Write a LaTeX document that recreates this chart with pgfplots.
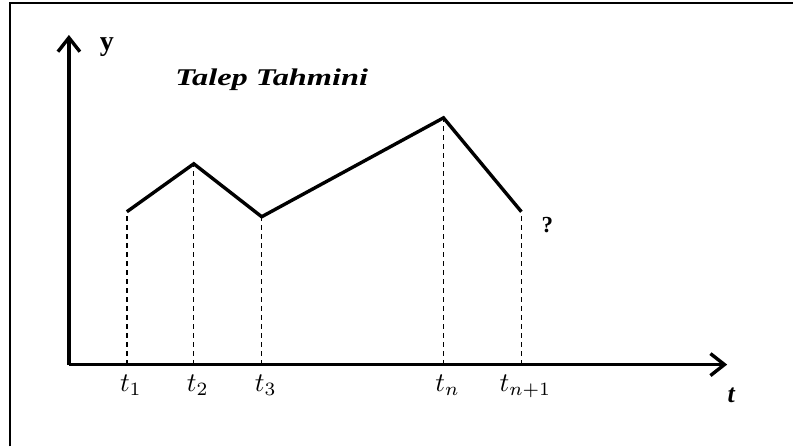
\documentclass[border=0pt]{standalone}
\usepackage{fontspec}
\setmainfont{Liberation Serif}
\usepackage{pgfplots}
\pgfplotsset{compat=1.18}
\usetikzlibrary{arrows.meta}
\begin{document}
\begin{tikzpicture}
\begin{axis}[
  width=659bp, height=330bp, scale only axis,
  xmin=0, xmax=659, ymin=0, ymax=330,
  axis lines=left,
  axis line style={line width=3.8bp, -{Straight Barb[length=14bp,width=22bp,line width=3.4bp]}},
  xtick={58,125,193,375,453},
  xticklabels={$t_1$,$t_2$,$t_3$,$t_n$,$t_{n+1}$},
  ytick=\empty,
  major tick length=0pt,
  xticklabel style={scale=2.7, xshift=1.5bp, yshift=-0.5bp, text=black},
  clip=false,
]
% vertical dashed guides
\addplot[ycomb, black, line width=1.3bp, dash pattern=on 5bp off 4bp, no marks]
  coordinates {(58,153) (125,201) (193,148) (375,247) (453,153)};
% forecast line
\addplot[black, line width=3.4bp, line join=miter, no marks]
  coordinates {(58,153) (125,201) (193,148) (375,247) (453,153)};
% frame (top and left edge)
\draw[black, line width=1.8bp] (axis cs:-59,-82) -- (axis cs:-59,362) -- (axis cs:725,362);
\path (axis cs:-69,-82) rectangle (axis cs:725,365);
% texts
\node[font=\bfseries\fontsize{28bp}{28bp}\selectfont] at (axis cs:38,318) {y};
\node[font=\bfseries\itshape\fontsize{24bp}{24bp}\selectfont, xscale=1.35] at (axis cs:203,285) {Talep Tahmini};
\node[font=\bfseries\fontsize{23bp}{23bp}\selectfont] at (axis cs:479,140) {?};
\node[font=\bfseries\itshape\fontsize{26bp}{26bp}\selectfont] at (axis cs:663,-31) {t};
\end{axis}
\end{tikzpicture}
\end{document}
